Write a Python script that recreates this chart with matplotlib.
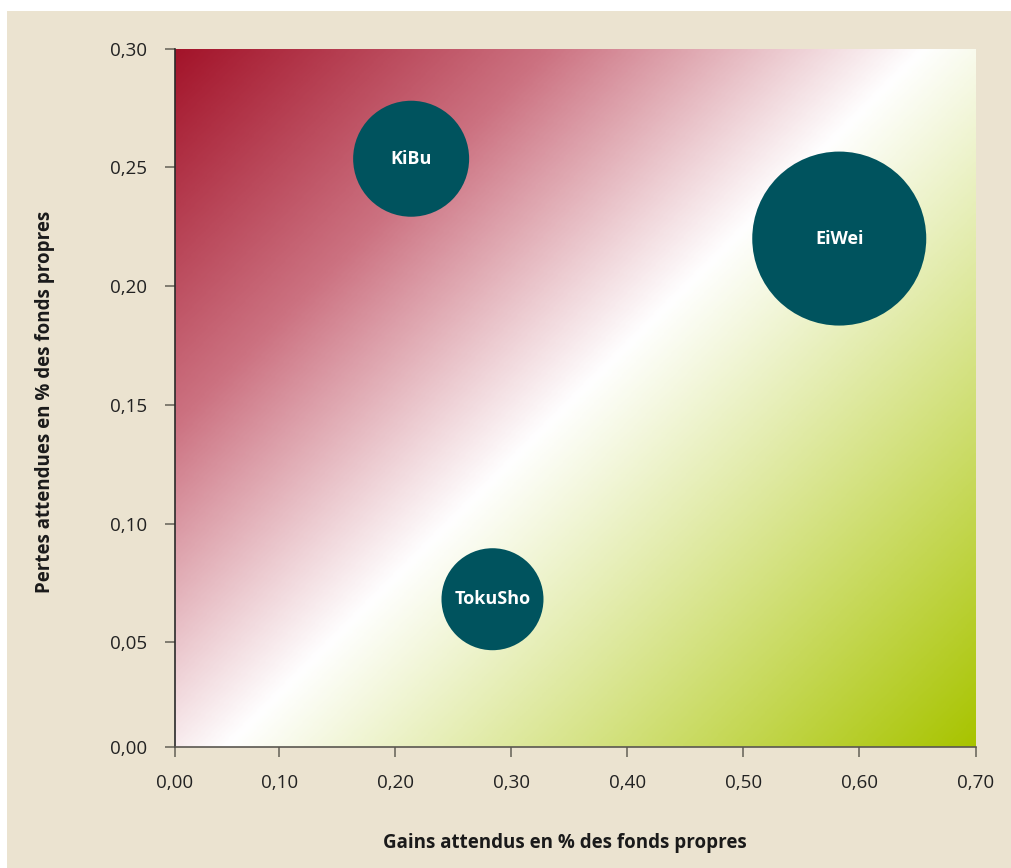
import numpy as np
import matplotlib.pyplot as plt
from matplotlib.colors import LinearSegmentedColormap
from matplotlib.patches import Rectangle

plt.rcParams['font.family'] = ['Open Sans', 'DejaVu Sans']

# donnees
noms = ['KiBu', 'EiWei', 'TokuSho']
gains = [0.2137, 0.5826, 0.2838]
pertes = [0.2536, 0.2200, 0.0682]
taille = [3364, 7569, 2601]   # proportionnel a l'aire de la bulle

# l'origine du graphique d'origine n'est pas exactement a 0 :
# le premier intervalle est plus court que les autres
x_debut, y_debut = 0.0098, 0.0060
xticks = [x_debut, 0.1, 0.2, 0.3, 0.4, 0.5, 0.6, 0.7]
xlabels = ['0,00', '0,10', '0,20', '0,30', '0,40', '0,50', '0,60', '0,70']
yticks = [y_debut, 0.05, 0.10, 0.15, 0.20, 0.25, 0.30]
ylabels = ['0,00', '0,05', '0,10', '0,15', '0,20', '0,25', '0,30']

W, H, dpi = 1011, 868, 100
fig = plt.figure(figsize=(W / dpi, H / dpi), dpi=dpi, facecolor='white')
fig.patches.append(Rectangle((7 / W, 0), 1 - 7 / W, (H - 11) / H,
                             transform=fig.transFigure, facecolor='#ebe3d0',
                             edgecolor='none', zorder=-10))

l, r, t, b = 174.5, 975.5, 48.5, 747
ax = fig.add_axes([l / W, 1 - b / H, (r - l) / W, (b - t) / H])
ax.set_facecolor('none')

# fond en degrade rouge -> blanc -> vert (a 45 degres)
pw, ph = r - l, b - t
u = np.linspace(0, 1, 400)
w = np.linspace(0, 1, 400)
U, Wt = np.meshgrid(u, w)
grad = (U * pw + Wt * ph) / (pw + ph)
cmap = LinearSegmentedColormap.from_list(
    'rg', [(0, '#a3142a'), (0.25, '#cc7281'), (0.5, '#ffffff'), (1, '#a8c400')])
ax.imshow(grad, cmap=cmap, extent=(x_debut, 0.7, y_debut, 0.3), origin='upper',
          aspect='auto', interpolation='bilinear', zorder=0)

# bulles
k = (2 * 72 / dpi) ** 2
s = [k * v for v in taille]
ax.scatter(gains, pertes, s=s, color='#00535e', edgecolors='none', zorder=3)
for n, x, y in zip(noms, gains, pertes):
    ax.text(x, y, n, color='white', fontsize=13, fontweight='bold',
            ha='center', va='center', zorder=4)

ax.set_xlim(x_debut, 0.7)
ax.set_ylim(y_debut, 0.3)
ax.set_xticks(xticks, xlabels)
ax.set_yticks(yticks, ylabels)
ax.tick_params(length=7.5, width=1.2, color='#6e6a60', labelsize=13.5,
               labelcolor='#222222', pad=12)

for sp in ['top', 'right']:
    ax.spines[sp].set_visible(False)
ax.spines['left'].set_color('#2a2a2a')
ax.spines['bottom'].set_color('#5a5750')
ax.spines['left'].set_linewidth(1.2)
ax.spines['bottom'].set_linewidth(1.2)

fig.text(565 / W, 1 - 843 / H, 'Gains attendus en % des fonds propres',
         fontsize=13.5, fontweight='bold', color='#1a1a1a', ha='center', va='center')
fig.text(45 / W, 1 - 402 / H, 'Pertes attendues en % des fonds propres',
         fontsize=13.5, fontweight='bold', color='#1a1a1a', ha='center', va='center',
         rotation=90)

fig.savefig('out.png', dpi=dpi, facecolor=fig.get_facecolor())
